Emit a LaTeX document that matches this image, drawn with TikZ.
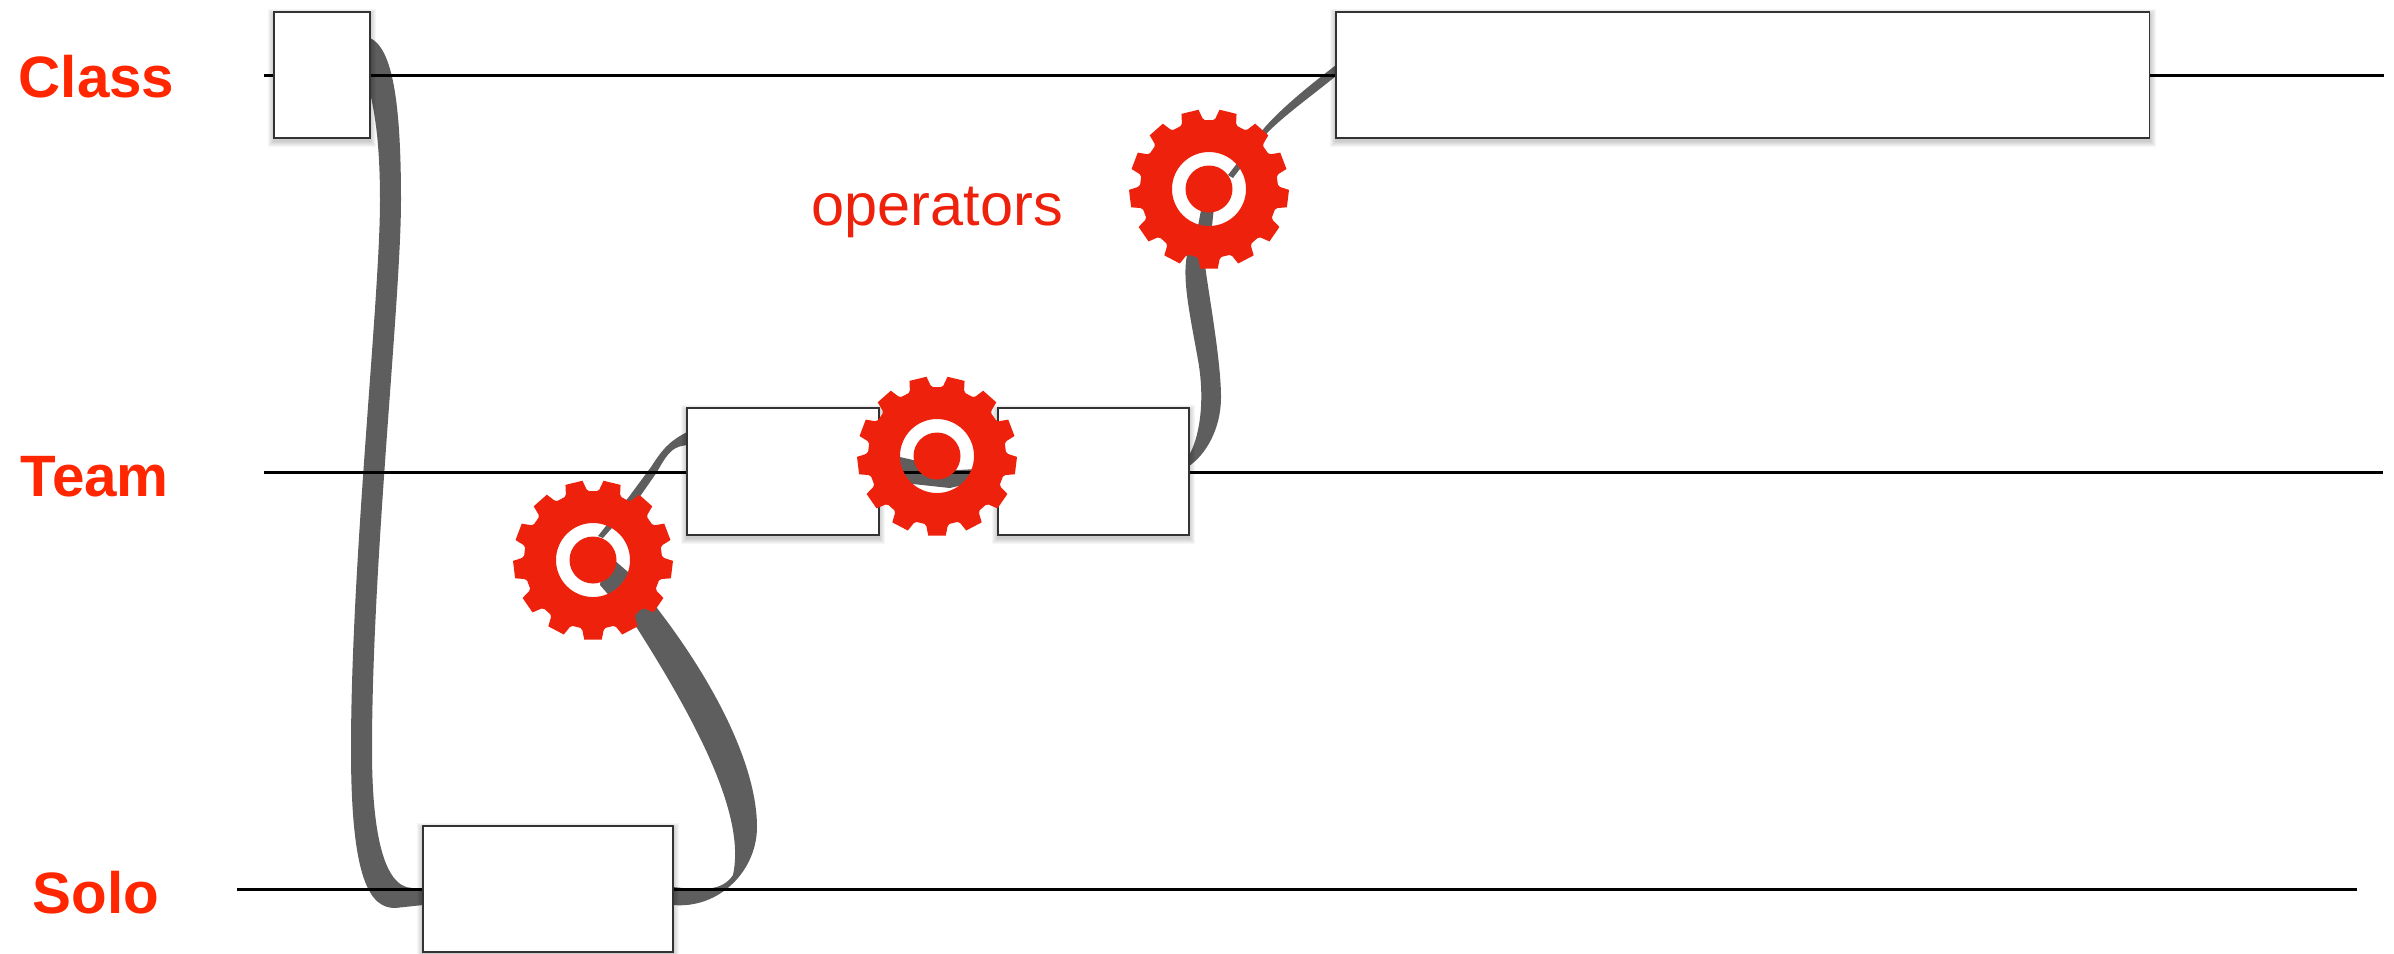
\documentclass[tikz,border=0pt]{standalone}
\usepackage{fontspec}
\setmainfont{Liberation Sans}
\usetikzlibrary{calc}
\definecolor{gearred}{HTML}{EE220C}
\definecolor{labelred}{HTML}{FF2600}
\definecolor{ribbon}{HTML}{5E5E5E}
\tikzset{
  x=0.01cm,y=-0.01cm,
  boxn/.style={draw=black!80,line width=0.4pt,fill=white,anchor=north west,inner sep=0pt,outer sep=0pt},
  lane/.style={draw=black,line width=0.85pt},
  lanelabel/.style={anchor=base west,inner sep=0pt,text=labelred,font=\fontsize{16.6}{20}\selectfont\bfseries},
  oplabel/.style={anchor=base west,inner sep=0pt,text=gearred,font=\fontsize{16.9}{20}\selectfont},
  ribbonfill/.style={fill=ribbon,draw=none},
  gearpic/.pic={
    \fill[gearred,even odd rule] (90-8.6:71)
      \foreach \i [evaluate=\i as \a using 90+\i*360/13] in {0,...,12}{
        -- (\a-8.6:71) -- (\a-6.3:80) -- (\a+6.3:80) -- (\a+8.6:71) -- (\a+10.5:69) -- (\a+17.2:69)
      } -- cycle
      (0,0) circle [radius=37];
    \fill[gearred] (0,0) circle [radius=23.5];
  }
}
\newcommand{\boxshadow}[1]{%
  \foreach \g in {1,...,6}{
    \fill[black,opacity=0.035] ($(#1.north west)+(-\g,3-\g)$) rectangle ($(#1.south east)+(\g,3+\g)$);
  }%
}
\begin{document}
\begin{tikzpicture}
\useasboundingbox (0,0) rectangle (2394,953);
% placement of boxes first, so ribbons can refer to them
\path node[anchor=north west,inner sep=0pt,outer sep=0pt,minimum width=0.96cm,minimum height=1.26cm] (classbox) at (274,12) {};
\path node[anchor=north west,inner sep=0pt,outer sep=0pt,minimum width=8.13cm,minimum height=1.26cm] (bigbox) at (1336,12) {};
\path node[anchor=north west,inner sep=0pt,outer sep=0pt,minimum width=1.92cm,minimum height=1.27cm] (teama) at (687,408) {};
\path node[anchor=north west,inner sep=0pt,outer sep=0pt,minimum width=1.91cm,minimum height=1.27cm] (teamb) at (998,408) {};
\path node[anchor=north west,inner sep=0pt,outer sep=0pt,minimum width=2.50cm,minimum height=1.26cm] (solobox) at (423,826) {};
\coordinate (gonec) at (593,560);
\coordinate (gtwoc) at (937,456);
\coordinate (gthreec) at (1209,189);
% ribbons
\fill[ribbonfill] (classbox.east |- 0,38) .. controls (392,48) and (401,100) .. (401,200)
  .. controls (401,300) and (372,560) .. (372,750)
  .. controls (372,830) and (383,887) .. (412,888) -- (solobox.west |- 0,888)
  -- (solobox.west |- 0,905) -- (395,908)
  .. controls (370,908) and (351,880) .. (351,750)
  .. controls (351,560) and (380,300) .. (380,200)
  .. controls (380,140) and (374,110) .. (classbox.east |- 0,93) -- cycle;
\fill[ribbonfill] (solobox.east |- 0,887) .. controls (700,890) and (722,892) .. (733,875)
  .. controls (745,820) and (705,735) .. (637,628) -- (600,585) -- (605,552) -- (628,572) -- (657,608)
  .. controls (720,690) and (757,770) .. (757,827)
  .. controls (757,870) and (720,909) .. (solobox.east |- 0,905) -- cycle;
\fill[ribbonfill] (598,536) -- (628,498) -- (651,467) .. controls (662,450) and (668,442) .. (teama.west |- 0,432)
  -- (teama.west |- 0,445) .. controls (675,447) and (670,448) .. (657,472) -- (641,495) -- (603,538) -- cycle;
\fill[ribbonfill] (teama.east |- 0,452) -- (900,457) -- (957,470) -- (teamb.west |- 0,468)
  -- (teamb.west |- 0,478) .. controls (975,482) .. (950,488) -- (913,484) -- (teama.east |- 0,478) -- cycle;
\fill[ribbonfill] (teamb.east |- 0,455) .. controls (1198,440) and (1206,405) .. (1198,360)
  .. controls (1190,315) and (1182,280) .. (1187,255) -- (1198,226) -- (1205,189) -- (1216,189) -- (1212,226) -- (1205,265)
  .. controls (1208,290) and (1221,360) .. (1221,397)
  .. controls (1221,430) and (1205,455) .. (teamb.east |- 0,466) -- cycle;
\fill[ribbonfill] (1228,175) -- (1265,127) .. controls (1285,105) and (1310,85) .. (bigbox.west |- 0,65)
  -- (bigbox.west |- 0,76) .. controls (1310,97) and (1285,115) .. (1268,132) -- (1233,178) -- cycle;
% lanes
\coordinate (classl) at (264,75); \coordinate (classr) at (2384,75);
\coordinate (teaml) at (264,472); \coordinate (teamr) at (2383,472);
\coordinate (solol) at (237,889); \coordinate (solor) at (2357,889);
\draw[lane] (classl) -- (classr);
\draw[lane] (teaml) -- (teamr);
\draw[lane] (solol) -- (solor);
% boxes with soft shadows
\boxshadow{classbox}\boxshadow{bigbox}\boxshadow{teama}\boxshadow{teamb}\boxshadow{solobox}
\foreach \n in {classbox,bigbox,teama,teamb,solobox}{
  \draw[black!80,line width=0.4pt,fill=white] (\n.north west) rectangle (\n.south east);
}
% gears
\pic at (gonec) {gearpic};
\pic at (gtwoc) {gearpic};
\pic at (gthreec) {gearpic};
% labels
\node[lanelabel] (lclass) at (18,97) {Class};
\node[lanelabel] (lteam) at (20,496) {Team};
\node[lanelabel] (lsolo) at (32,913) {Solo};
\node[oplabel] (lop) at (811,225) {operators};
\end{tikzpicture}
\end{document}
